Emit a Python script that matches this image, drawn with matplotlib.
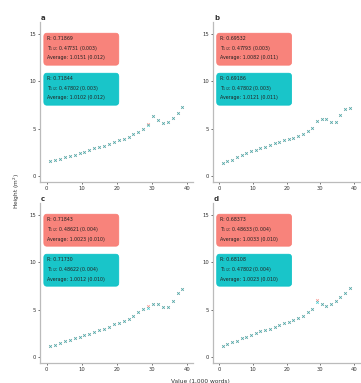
import matplotlib
matplotlib.use("Agg")
import matplotlib.pyplot as plt
from matplotlib.patches import FancyBboxPatch

# shared x positions
x_vals = [1.0, 2.4, 3.8, 5.2, 6.6, 8.0, 9.4, 10.8, 12.2, 13.6, 15.0, 16.4, 17.8, 19.2,
          20.6, 22.0, 23.4, 24.8, 26.2, 27.6, 29.0, 30.4, 31.8, 33.2, 34.6, 36.0, 37.4, 38.8]

# teal series per panel
teal_a = [1.55, 1.7, 1.8, 1.95, 2.1, 2.25, 2.4, 2.55, 2.7, 2.9, 3.05, 3.2, 3.4, 3.6,
          3.75, 3.95, 4.15, 4.4, 4.65, 4.95, 5.4, 6.3, 5.9, 5.6, 5.7, 6.1, 6.7, 7.3]
teal_b = [1.35, 1.55, 1.7, 1.95, 2.2, 2.4, 2.6, 2.75, 2.9, 3.1, 3.3, 3.45, 3.6, 3.8,
          3.95, 4.05, 4.2, 4.45, 4.7, 5.1, 5.8, 6.0, 6.0, 5.7, 5.75, 6.4, 7.05, 7.2]
teal_c = [1.15, 1.3, 1.45, 1.65, 1.8, 1.95, 2.15, 2.3, 2.45, 2.65, 2.8, 3.0, 3.2, 3.45,
          3.6, 3.8, 4.05, 4.35, 4.8, 5.05, 5.2, 5.6, 5.6, 5.25, 5.3, 5.9, 6.8, 7.15]
teal_d = [1.15, 1.35, 1.55, 1.7, 1.95, 2.15, 2.3, 2.5, 2.7, 2.85, 3.0, 3.2, 3.4, 3.55,
          3.7, 3.95, 4.1, 4.35, 4.7, 5.1, 5.8, 5.6, 5.4, 5.6, 5.9, 6.3, 6.75, 7.25]

# red series per panel (nearly hidden beneath the teal one)
red_a = [1.6, 1.7, 1.8, 1.95, 2.1, 2.25, 2.4, 2.55, 2.7, 2.9, 3.05, 3.2, 3.4, 3.6,
         3.75, 3.95, 4.15, 4.4, 4.65, 4.95, 5.45, 6.3, 5.9, 5.6, 5.7, 6.1, 6.7, 7.3]
red_b = [1.35, 1.55, 1.7, 1.95, 2.2, 2.4, 2.6, 2.75, 2.9, 3.1, 3.3, 3.45, 3.6, 3.8,
         3.95, 4.05, 4.2, 4.45, 4.7, 5.1, 5.8, 6.05, 6.0, 5.7, 5.75, 6.4, 7.05, 7.2]
red_c = [1.15, 1.3, 1.45, 1.65, 1.8, 1.95, 2.15, 2.3, 2.45, 2.65, 2.8, 3.0, 3.2, 3.45,
         3.6, 3.8, 4.05, 4.35, 4.8, 5.05, 5.35, 5.6, 5.6, 5.25, 5.3, 5.9, 6.8, 7.15]
red_d = [1.15, 1.35, 1.55, 1.7, 1.95, 2.15, 2.3, 2.5, 2.7, 2.85, 3.0, 3.2, 3.4, 3.55,
         3.7, 3.95, 4.1, 4.35, 4.7, 5.1, 6.05, 5.6, 5.4, 5.6, 5.9, 6.3, 6.75, 7.25]

panel_labels = ["a", "b", "c", "d"]
red_text = [
    ["R: 0.71869", "T$_{1/2}$: 0.47731 (0.003)", "Average: 1.0151 (0.012)"],
    ["R: 0.69532", "T$_{1/2}$: 0.47793 (0.003)", "Average: 1.0082 (0.011)"],
    ["R: 0.71843", "T$_{1/2}$: 0.48621 (0.004)", "Average: 1.0023 (0.010)"],
    ["R: 0.68373", "T$_{1/2}$: 0.48633 (0.004)", "Average: 1.0033 (0.010)"],
]
teal_text = [
    ["R: 0.71844", "T$_{1/2}$: 0.47802 (0.003)", "Average: 1.0102 (0.012)"],
    ["R: 0.69186", "T$_{1/2}$: 0.47802 (0.003)", "Average: 1.0121 (0.011)"],
    ["R: 0.71730", "T$_{1/2}$: 0.48622 (0.004)", "Average: 1.0012 (0.010)"],
    ["R: 0.68108", "T$_{1/2}$: 0.47802 (0.004)", "Average: 1.0023 (0.010)"],
]
x_ticks = [0, 10, 20, 30, 40]
y_ticks = [0, 5, 10, 15]

RED = "#F8766D"
TEAL = "#00BFC4"

fig = plt.figure(figsize=(3.61, 3.83), dpi=100)

W, H = 361, 383
# axes boxes in pixels: left, top, bottom, width
boxes = [(40, 22, 182, 153), (213, 22, 182, 147), (40, 203, 363, 153), (213, 203, 363, 147)]
series = [(teal_a, red_a), (teal_b, red_b), (teal_c, red_c), (teal_d, red_d)]

for i, (left, top, bottom, width) in enumerate(boxes):
    ax = fig.add_axes([left / W, (H - bottom) / H, width / W, (bottom - top) / H])
    teal, red = series[i]
    ax.plot(x_vals, red, "x", color=RED, ms=1.9, mew=0.5, alpha=0.8)
    ax.plot(x_vals, teal, "x", color=TEAL, ms=1.9, mew=0.5, alpha=0.75)
    ax.set_xlim(-1.9, 41.8)
    ax.set_ylim(-0.65, 16.3)
    ax.set_xticks(x_ticks)
    ax.set_yticks(y_ticks)
    ax.tick_params(labelsize=3.8, length=1.5, width=0.5, pad=1.5,
                   colors="#333333")
    for s in ["top", "right"]:
        ax.spines[s].set_visible(False)
    for s in ["left", "bottom"]:
        ax.spines[s].set_color("#bbbbbb")
        ax.spines[s].set_linewidth(0.9)

    for (y0, y1, col, lines) in [(0.73, 0.93, RED, red_text[i]),
                                  (0.48, 0.68, TEAL, teal_text[i])]:
        box = FancyBboxPatch((0.025, y0), 0.49 * 153 / width, y1 - y0,
                             transform=ax.transAxes,
                             boxstyle="round,pad=0,rounding_size=0.02",
                             facecolor=col, edgecolor=col, lw=0.5, alpha=0.9)
        ax.add_patch(box)
        for k, line in enumerate(lines):
            ax.text(0.045, y1 - 0.035 - k * 0.06, line, transform=ax.transAxes,
                    fontsize=3.4, va="center", ha="left", color="#222222")

    fig.text((left + 1) / W, (H - top + 4) / H, panel_labels[i],
             fontsize=5, fontweight="bold", ha="left", va="center", color="#333333")

fig.text(17 / W, 0.5, "Height (m$^2$)", rotation=90, fontsize=4.2,
         ha="center", va="center", color="#333333")
fig.text(200 / W, 1.5 / H, "Value (1,000 words)", fontsize=4.2,
         ha="center", va="center", color="#333333")

fig.savefig("out.png", dpi=100)
